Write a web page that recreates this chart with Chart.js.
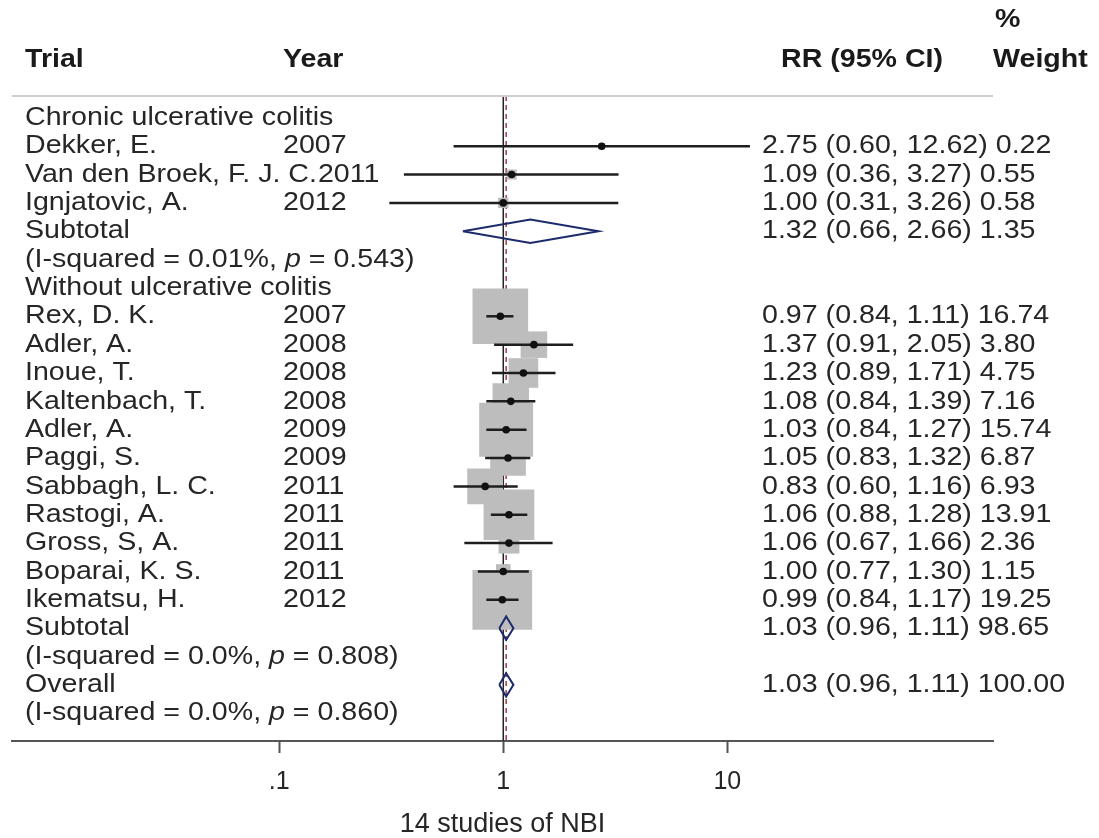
<!DOCTYPE html>
<html lang="en">
<head>
  <meta charset="UTF-8" />
  <title>NBI forest plot</title>
  <script src="https://cdn.jsdelivr.net/npm/chart.js"></script>
  <style>
    body { margin: 0; padding: 0; background: #fff; }
    canvas { display: block; }
  </style>
</head>
<body>
  <canvas id="forest" width="1099" height="838"></canvas>

  <script>
    // ---- data ----
    const groups = ["Chronic ulcerative colitis", "Without ulcerative colitis"];
    const trials = ["Dekker, E.", "Van den Broek, F. J. C.", "Ignjatovic, A.",
      "Rex, D. K.", "Adler, A.", "Inoue, T.", "Kaltenbach, T.", "Adler, A.", "Paggi, S.",
      "Sabbagh, L. C.", "Rastogi, A.", "Gross, S, A.", "Boparai, K. S.", "Ikematsu, H."];
    const trialGroup = [0, 0, 0, 1, 1, 1, 1, 1, 1, 1, 1, 1, 1, 1];
    const years = ["2007", "2011", "2012", "2007", "2008", "2008", "2008", "2009", "2009",
      "2011", "2011", "2011", "2011", "2012"];
    const rr = [2.75, 1.09, 1.00, 0.97, 1.37, 1.23, 1.08, 1.03, 1.05, 0.83, 1.06, 1.06, 1.00, 0.99];
    const lower = [0.60, 0.36, 0.31, 0.84, 0.91, 0.89, 0.84, 0.84, 0.83, 0.60, 0.88, 0.67, 0.77, 0.84];
    const upper = [12.62, 3.27, 3.26, 1.11, 2.05, 1.71, 1.39, 1.27, 1.32, 1.16, 1.28, 1.66, 1.30, 1.17];
    const weights = [0.22, 0.55, 0.58, 16.74, 3.80, 4.75, 7.16, 15.74, 6.87, 6.93, 13.91, 2.36, 1.15, 19.25];

    const pooledLabels = ["Subtotal", "Subtotal", "Overall"];
    const pooledRR = [1.32, 1.03, 1.03];
    const pooledLower = [0.66, 0.96, 0.96];
    const pooledUpper = [2.66, 1.11, 1.11];
    const pooledWeight = [1.35, 98.65, 100.00];
    const pooledIsq = ["0.01%", "0.0%", "0.0%"];
    const pooledP = ["0.543", "0.808", "0.860"];

    const xTicks = [0.1, 1, 10];
    const xTickLabels = [".1", "1", "10"];
    const xTitle = "14 studies of NBI";

    // ---- row layout (one text line per row) ----
    const rows = [];   // {type, idx}
    groups.forEach((g, gi) => {
      rows.push({ type: "group", idx: gi });
      trials.forEach((t, i) => { if (trialGroup[i] === gi) rows.push({ type: "trial", idx: i }); });
      rows.push({ type: "pooled", idx: gi });
      rows.push({ type: "note", idx: gi });
    });
    rows.push({ type: "pooled", idx: 2 });
    rows.push({ type: "note", idx: 2 });

    const rowOf = (type, idx) => rows.findIndex(r => r.type === type && r.idx === idx);

    const FONT = "'Liberation Sans', Arial, Helvetica, sans-serif";
    const TEXT = "#262626";
    const SX = 1.1;           // the source text is slightly wide
    const Y_MIN = -0.77, Y_MAX = 21.98;
    const BOX_K = 13.6;       // box side per sqrt(weight), px

    const fmt = v => v.toFixed(2);

    // ---- datasets ----
    const datasets = [];

    // null line and overall estimate line
    datasets.push({
      type: "line", data: [{ x: 1, y: Y_MIN }, { x: 1, y: Y_MAX }],
      borderColor: "#222", borderWidth: 1.5, pointRadius: 0, order: 5
    });
    datasets.push({
      type: "line", data: [{ x: pooledRR[2], y: Y_MIN }, { x: pooledRR[2], y: Y_MAX }],
      borderColor: "#9a3d4a", borderWidth: 1.5, borderDash: [5, 4], pointRadius: 0, order: 4
    });

    // weight boxes
    datasets.push({
      data: trials.map((t, i) => ({ x: rr[i], y: rowOf("trial", i) })),
      pointStyle: "rect",
      pointRadius: trials.map((t, i) => BOX_K * Math.sqrt(weights[i]) / Math.SQRT2),
      backgroundColor: "#bdbdbd", borderWidth: 0, order: 3
    });

    // confidence intervals
    trials.forEach((t, i) => {
      const r = rowOf("trial", i);
      datasets.push({
        type: "line", data: [{ x: lower[i], y: r }, { x: upper[i], y: r }],
        borderColor: "#1e1e1e", borderWidth: 2.5, pointRadius: 0, order: 2
      });
    });

    // pooled diamonds
    pooledRR.forEach((v, k) => {
      const r = rowOf("pooled", k);
      datasets.push({
        type: "line",
        data: [{ x: pooledLower[k], y: r }, { x: v, y: r - 0.41 }, { x: pooledUpper[k], y: r },
               { x: v, y: r + 0.41 }, { x: pooledLower[k], y: r }],
        borderColor: "#1d2a6b", borderWidth: 2, pointRadius: 0, fill: false, order: 1
      });
    });

    // point estimates
    datasets.push({
      data: trials.map((t, i) => ({ x: rr[i], y: rowOf("trial", i) })),
      pointStyle: "circle", pointRadius: 3.8,
      backgroundColor: "#111", borderWidth: 0, order: 0
    });

    // ---- text columns ----
    function put(ctx, txt, x, y, weight, style) {
      ctx.save();
      ctx.font = (style || "") + " " + (weight || "normal") + " 26px " + FONT;
      ctx.translate(x, y);
      ctx.scale(SX, 1);
      ctx.fillText(txt, 0, 0);
      const w = ctx.measureText(txt).width * SX;
      ctx.restore();
      return w;
    }

    const textColumns = {
      id: "textColumns",
      afterDraw(chart) {
        const ctx = chart.ctx;
        const ys = chart.scales.y;
        const area = chart.chartArea;
        ctx.save();
        ctx.textBaseline = "middle";
        ctx.textAlign = "left";

        // headers
        ctx.fillStyle = "#1a1a1a";
        put(ctx, "Trial", 25, ys.getPixelForValue(-2.04), "bold");
        put(ctx, "Year", 283, ys.getPixelForValue(-2.04), "bold");
        put(ctx, "RR (95% CI)", 781, ys.getPixelForValue(-2.04), "bold");
        put(ctx, "Weight", 993, ys.getPixelForValue(-2.04), "bold");
        put(ctx, "%", 995, ys.getPixelForValue(-3.46), "bold");

        // separator under the headers
        ctx.strokeStyle = "#cfcfcf";
        ctx.lineWidth = 2;
        ctx.beginPath();
        ctx.moveTo(area.left, area.top);
        ctx.lineTo(area.right, area.top);
        ctx.stroke();

        ctx.fillStyle = TEXT;
        rows.forEach((row, r) => {
          const y = ys.getPixelForValue(r);
          const k = row.idx;
          if (row.type === "group") {
            put(ctx, groups[k], 25, y);
          } else if (row.type === "trial") {
            const nameEnd = 25 + put(ctx, trials[k], 25, y);
            put(ctx, years[k], Math.max(283, nameEnd + 1), y);
            put(ctx, fmt(rr[k]) + " (" + fmt(lower[k]) + ", " + fmt(upper[k]) + ") " + fmt(weights[k]), 762, y);
          } else if (row.type === "pooled") {
            put(ctx, pooledLabels[k], 25, y);
            put(ctx, fmt(pooledRR[k]) + " (" + fmt(pooledLower[k]) + ", " + fmt(pooledUpper[k]) + ") " + fmt(pooledWeight[k]), 762, y);
          } else {
            let x = 25;
            x += put(ctx, "(I-squared = " + pooledIsq[k] + ", ", x, y);
            x += put(ctx, "p", x, y, "normal", "italic");
            put(ctx, " = " + pooledP[k] + ")", x, y);
          }
        });
        ctx.restore();
      }
    };

    new Chart(document.getElementById("forest"), {
      type: "scatter",
      data: { datasets },
      options: {
        responsive: false,
        animation: false,
        layout: { autoPadding: false, padding: { left: 12, right: 106, top: 96, bottom: 0 } },
        plugins: { legend: { display: false }, tooltip: { enabled: false } },
        scales: {
          x: {
            type: "logarithmic",
            min: Math.pow(10, -2.193),
            max: Math.pow(10, 2.186),
            afterBuildTicks: s => { s.ticks = xTicks.map(v => ({ value: v })); },
            border: { display: true, color: "#555", width: 2 },
            grid: { display: true, drawOnChartArea: false, drawTicks: true, tickLength: 12, tickWidth: 2, tickColor: "#555" },
            ticks: {
              autoSkip: false, maxRotation: 0, padding: 14, color: TEXT,
              font: { family: FONT, size: 25 },
              callback: (v) => xTickLabels[xTicks.indexOf(v)]
            },
            title: {
              display: true, text: xTitle, color: TEXT,
              font: { family: FONT, size: 27, lineHeight: 1 },
              padding: { top: 0, bottom: 0 }
            }
          },
          y: { type: "linear", display: false, reverse: true, min: Y_MIN, max: Y_MAX }
        }
      },
      plugins: [textColumns]
    });
  </script>
</body>
</html>
